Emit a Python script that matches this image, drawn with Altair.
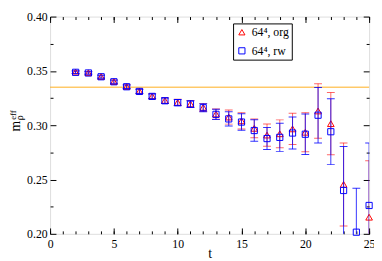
import altair as alt
import pandas as pd

# ---- data ----
t_vals = list(range(2, 26))
org_val = [0.3489, 0.3483, 0.3448, 0.3402, 0.3356, 0.3313, 0.3267, 0.3227, 0.3210, 0.3196,
           0.3164, 0.3103, 0.3075, 0.3040, 0.2971, 0.2909, 0.2921, 0.2966, 0.2935, 0.3131,
           0.3014, 0.2455, None, 0.2153]
org_err = [0.0012, 0.0012, 0.0013, 0.0015, 0.0017, 0.0019, 0.0022, 0.0025, 0.0029, 0.0032,
           0.0037, 0.0047, 0.0065, 0.0075, 0.0086, 0.0102, 0.0128, 0.0144, 0.0180, 0.0251,
           0.0287, 0.0382, None, 0.0520]
rw_val = [0.3487, 0.3481, 0.3446, 0.3400, 0.3354, 0.3311, 0.3265, 0.3225, 0.3208, 0.3194,
          0.3161, 0.3100, 0.3058, 0.3029, 0.2951, 0.2877, 0.2888, 0.2928, 0.2917, 0.3092,
          0.2940, 0.2399, 0.2015, 0.2261]
rw_err = [0.0012, 0.0012, 0.0013, 0.0015, 0.0017, 0.0019, 0.0022, 0.0025, 0.0029, 0.0032,
          0.0037, 0.0047, 0.0065, 0.0076, 0.0099, 0.0101, 0.0129, 0.0148, 0.0187, 0.0256,
          0.0303, 0.0405, 0.0405, 0.0575]
ref_line = [0.335]
series_names = ["64\u2074, org", "64\u2074, rw"]
x_major = [0, 5, 10, 15, 20, 25]
x_minor = list(range(0, 26))
y_major = [0.20, 0.25, 0.30, 0.35, 0.40]
y_minor = [0.225, 0.275, 0.325, 0.375]

rows = []
for name, vals, errs in [(series_names[0], org_val, org_err), (series_names[1], rw_val, rw_err)]:
    for t, v, e in zip(t_vals, vals, errs):
        if v is None:
            continue
        rows.append({"t": t, "val": v, "lo": v - e, "hi": v + e, "series": name})
df = pd.DataFrame(rows)
df_org = df[df.series == series_names[0]]
df_rw = df[df.series == series_names[1]]
df_ref = pd.DataFrame({"y": ref_line})
df_one = pd.DataFrame({"k": [0]})

W, H = 326, 222
FONT = "Liberation Serif"
xscale = alt.Scale(domain=[0, 25], nice=False, zero=False)
yscale = alt.Scale(domain=[0.2, 0.4], nice=False, zero=False)

common_axis = dict(domain=False, grid=False, labelFont=FONT, labelColor="black",
                   tickColor="black", tickWidth=1)


def tick_axis(orient, offset, values, size):
    return alt.Axis(orient=orient, offset=offset, values=values, tickSize=size,
                    labels=False, title=None, **common_axis)


color_scale = alt.Scale(domain=series_names, range=["#ff0000", "#0000ff"])
shape_scale = alt.Scale(domain=series_names, range=["triangle-up", "square"])
legend = alt.Legend(orient="none", legendX=187, legendY=7, title=None,
                    labelFont=FONT, labelFontSize=12, labelColor="black",
                    symbolSize=40, symbolStrokeWidth=1, symbolFillColor="transparent",
                    padding=3, rowPadding=7, labelOffset=4,
                    strokeColor="black", fillColor="white", cornerRadius=0)

ref = alt.Chart(df_ref).mark_rule(stroke="#ffa500", color="#ffa500", strokeWidth=1,
                                  opacity=0.9).encode(
    y=alt.Y("y:Q", scale=yscale, axis=None))


def err_layers(d, color, opacity):
    x = alt.X("t:Q", scale=xscale, axis=None)
    bar = alt.Chart(d).mark_rule(color=color, strokeWidth=1, opacity=opacity, clip=True).encode(
        x=x, y=alt.Y("lo:Q", scale=yscale, axis=None), y2="hi:Q")
    cap_lo = alt.Chart(d).mark_tick(color=color, orient="horizontal", size=8, thickness=1,
                                    opacity=opacity, clip=True).encode(
        x=x, y=alt.Y("lo:Q", scale=yscale, axis=None))
    cap_hi = alt.Chart(d).mark_tick(color=color, orient="horizontal", size=8, thickness=1,
                                    opacity=opacity, clip=True).encode(
        x=x, y=alt.Y("hi:Q", scale=yscale, axis=None))
    return [bar, cap_lo, cap_hi]


def points(d, size):
    return alt.Chart(d).mark_point(filled=False, strokeWidth=1, size=size, opacity=1).encode(
        x=alt.X("t:Q", scale=xscale, axis=None),
        y=alt.Y("val:Q", scale=yscale, axis=None),
        color=alt.Color("series:N", scale=color_scale, legend=legend),
        shape=alt.Shape("series:N", scale=shape_scale, legend=legend))


def axis_layer(xaxis=None, yaxis=None):
    return alt.Chart(df_rw).mark_point(opacity=0).encode(
        x=alt.X("t:Q", scale=xscale, axis=xaxis),
        y=alt.Y("val:Q", scale=yscale, axis=yaxis))


x_label_axis = alt.Axis(orient="bottom", values=x_major, ticks=False, labelPadding=5,
                        labelFontSize=12, labelFlush=False, labelOverlap=False, format="d",
                        title="t", titleFont=FONT, titleFontSize=14, titleFontWeight="normal",
                        titleColor="black", titlePadding=-3, **common_axis)
y_label_axis = alt.Axis(orient="left", values=y_major, ticks=False, labelPadding=3,
                        labelFontSize=12, labelFlush=False, labelOverlap=False, format=".2f",
                        title=None, **common_axis)

axes = [
    axis_layer(xaxis=x_label_axis),
    axis_layer(yaxis=y_label_axis),
    axis_layer(xaxis=tick_axis("top", -H, x_major, 6)),
    axis_layer(xaxis=tick_axis("top", -H, x_minor, 3)),
    axis_layer(xaxis=tick_axis("bottom", -H, x_major, 6)),
    axis_layer(xaxis=tick_axis("bottom", -H, x_minor, 3)),
    axis_layer(yaxis=tick_axis("right", -W, y_major, 6)),
    axis_layer(yaxis=tick_axis("right", -W, y_minor, 3)),
    axis_layer(yaxis=tick_axis("left", -W, y_major, 6)),
    axis_layer(yaxis=tick_axis("left", -W, y_minor, 3)),
]

ytitle = [
    alt.Chart(df_one).mark_text(text="m", angle=270, font=FONT, fontSize=14, color="black",
                                align="center", baseline="middle").encode(
        x=alt.value(-35), y=alt.value(112)),
    alt.Chart(df_one).mark_text(text="eff", angle=270, font=FONT, fontSize=9, color="black",
                                align="left", baseline="middle").encode(
        x=alt.value(-38), y=alt.value(105.5)),
    alt.Chart(df_one).mark_text(text="\u03c1", angle=270, font=FONT, fontSize=10, color="black",
                                align="left", baseline="middle").encode(
        x=alt.value(-31), y=alt.value(106)),
]

layers = axes + [ref] + err_layers(df_org, "#ff0000", 0.6) + [points(df_org, 46)] + \
    err_layers(df_rw, "#0000ff", 0.8) + [points(df_rw, 40)] + ytitle

chart = alt.layer(*layers).resolve_axis(x="independent", y="independent").properties(
    width=W, height=H,
    autosize=alt.AutoSizeParams(type="none"),
    padding={"left": 43, "top": 6, "right": 5, "bottom": 25},
).configure_view(stroke="black", strokeWidth=1).configure(background="white")

chart.save("out.html", embed_options={"renderer": "svg", "actions": False})
